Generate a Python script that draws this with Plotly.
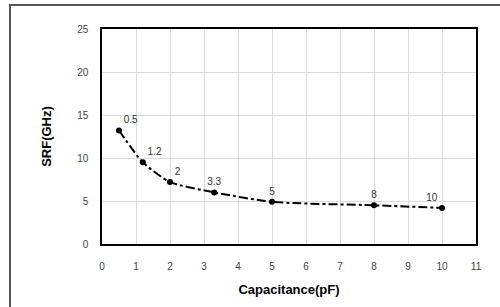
import plotly.graph_objects as go

capacitance = [0.5, 1.2, 2, 3.3, 5, 8, 10]
srf = [13.2, 9.5, 7.2, 6.0, 4.9, 4.5, 4.2]
labels = ["0.5", "1.2", "2", "3.3", "5", "8", "10"]
label_pos = ["top right", "top right", "top right", "top center", "top center", "top center", "top left"]

fig = go.Figure()
fig.add_trace(go.Scatter(
    x=capacitance, y=srf, mode="lines+markers+text",
    text=labels, textposition=label_pos,
    textfont=dict(family="Liberation Sans, Arial", size=10, color="#333"),
    line=dict(color="black", width=2, dash="dashdot", shape="spline", smoothing=0.6),
    marker=dict(color="black", size=6),
    showlegend=False,
))

L, R, T, B = 102, 24, 29, 63
W, H = 500, 307
pw, ph = W - L - R, H - T - B

fig.update_layout(
    width=W, height=H,
    margin=dict(l=L, r=R, t=T, b=B),
    paper_bgcolor="white", plot_bgcolor="white",
    font=dict(family="Liberation Sans, Arial", color="#333"),
    xaxis=dict(range=[0, 11], dtick=1, showgrid=True, gridcolor="#dcdcdc", gridwidth=1,
               showline=True, linecolor="black", linewidth=1.5, mirror=True,
               ticks="", ticklabelstandoff=12,
               tickfont=dict(size=10, color="#444"), zeroline=False,
               title=dict(text="<b>Capacitance(pF)</b>", font=dict(size=13, color="black"), standoff=14)),
    yaxis=dict(range=[0, 25], dtick=5, showgrid=True, gridcolor="#dcdcdc", gridwidth=1,
               showline=True, linecolor="black", linewidth=1.5, mirror=True,
               ticks="", ticklabelstandoff=10,
               tickfont=dict(size=10, color="#444"), zeroline=False,
               title=dict(text="<b>SRF(GHz)</b>", font=dict(size=13, color="black"), standoff=23)),
    shapes=[dict(type="rect", xref="paper", yref="paper",
                 x0=(10 - L) / pw, x1=1.2, y0=-0.5, y1=(H - B - 5) / ph,
                 line=dict(color="#555", width=2), layer="below")],
)

fig.write_html("out.html", config={"displayModeBar": False},
               post_script="document.body.style.margin='0';document.body.style.overflow='hidden';")
